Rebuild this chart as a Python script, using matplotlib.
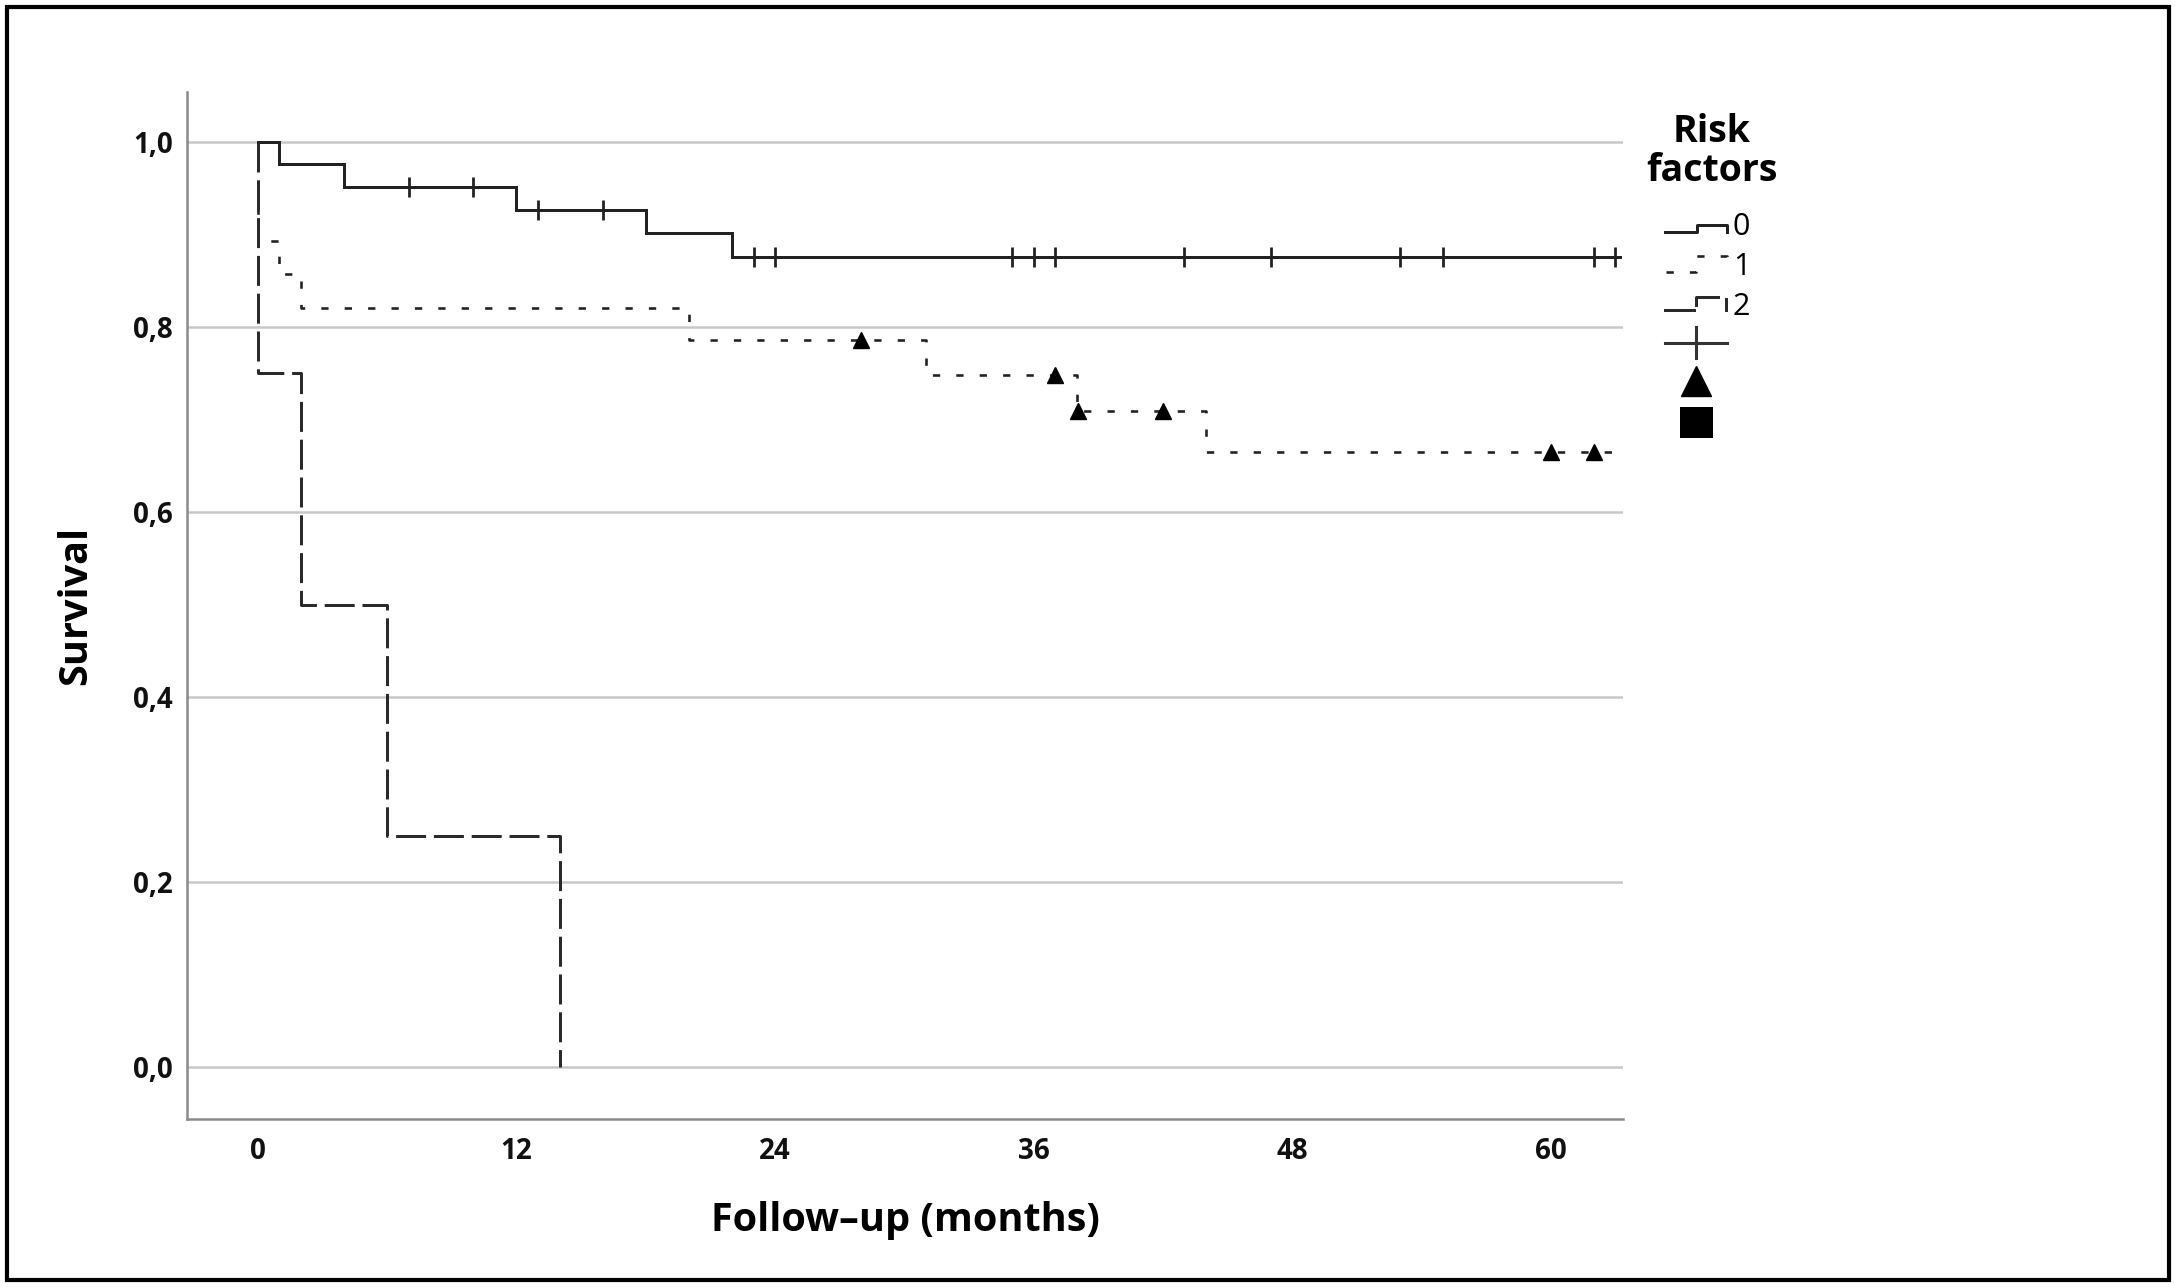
import numpy as np
import matplotlib
matplotlib.use("Agg")
import matplotlib.pyplot as plt
from matplotlib.lines import Line2D
from matplotlib.patches import Rectangle

# ---------------- data ----------------
# group 0 (solid)
t0 = [0, 1, 4, 12, 18, 22, 63.2]
s0 = [1.0, 0.976, 0.951, 0.927, 0.902, 0.876, 0.876]
c0 = [7, 10, 13, 16, 23, 24, 35, 36, 37, 43, 47, 53, 55, 62, 63]
# group 1 (dotted)
t1 = [0, 0, 1, 2, 20, 31, 38, 44, 63.2]
s1 = [1.0, 0.893, 0.857, 0.821, 0.786, 0.748, 0.709, 0.665, 0.665]
c1 = [28, 37, 38.05, 42, 60, 62]
# group 2 (dashed)
t2 = [0, 0, 2, 6, 14]
s2 = [1.0, 0.75, 0.5, 0.25, 0.0]

xticks = [0, 12, 24, 36, 48, 60]
yticks = [0.0, 0.2, 0.4, 0.6, 0.8, 1.0]
ytick_labels = ["0,0", "0,2", "0,4", "0,6", "0,8", "1,0"]
legend_title = ["Risk", "factors"]
legend_labels = ["0", "1", "2"]

FONT = "Open Sans"
W, H = 2175, 1287

def step_value(t, s, x):
    idx = np.searchsorted(np.asarray(t), x, side="right") - 1
    return np.asarray(s)[idx]

fig = plt.figure(figsize=(W / 100, H / 100), dpi=100)
ax = fig.add_axes([187 / W, 1 - 1119 / H, (1623 - 187) / W, (1119 - 91.5) / H])

lw_px = 0.72
ax.step(t0, s0, where="post", color="#222222", lw=3 * lw_px, solid_joinstyle="miter", zorder=4)
ax.step(t1, s1, where="post", color="#222222", lw=2.6 * lw_px,
        linestyle=(2, (2.8, 6.2)), zorder=3)
ax.step(t2, s2, where="post", color="#2a2a2a", lw=3 * lw_px,
        linestyle=(0, (10, 2.6)), zorder=3)

ax.plot(c0, step_value(t0, s0, c0), linestyle="none", marker="|", markersize=14,
        markeredgewidth=2.0, color="#222222", zorder=5)
ax.plot(c1, step_value(t1, s1, c1), linestyle="none", marker="^", markersize=12,
        color="black", zorder=5)

ax.set_xlim(-3.29, 63.35)
ax.set_ylim(-0.0562, 1.0546)
ax.set_xticks(xticks)
ax.set_xticklabels([str(v) for v in xticks])
ax.set_yticks(yticks)
ax.set_yticklabels(ytick_labels)
ax.yaxis.grid(True, color="#c8c8c8", lw=1.8, zorder=0)
ax.set_axisbelow(True)
ax.tick_params(axis="both", length=0, labelsize=20)
ax.tick_params(axis="x", pad=13)
ax.tick_params(axis="y", pad=10)
for lab in ax.get_xticklabels() + ax.get_yticklabels():
    lab.set_family(FONT)
    lab.set_fontweight("bold")
    lab.set_color("#111111")
for side in ("top", "right"):
    ax.spines[side].set_visible(False)
for side in ("left", "bottom"):
    ax.spines[side].set_color("#8a8a8a")
    ax.spines[side].set_linewidth(1.8)

ax.set_xlabel("Follow\u2013up (months)", family=FONT, fontweight="bold", fontsize=28.5)
ax.set_ylabel("Survival", family=FONT, fontweight="bold", fontsize=28.5)
ax.xaxis.set_label_coords(0.5, -(1221 - 1119) / 1027.5)
ax.xaxis.label.set_va("center")
ax.yaxis.set_label_coords((76 - 187) / 1436, 0.5)
ax.yaxis.label.set_va("center")

# ---------------- overlay for legend and frame (pixel coordinates) ----------------
ov = fig.add_axes([0, 0, 1, 1], facecolor="none")
ov.set_xlim(0, W)
ov.set_ylim(H, 0)
ov.axis("off")

ov.text(1712, 142, legend_title[0], family=FONT, fontweight="bold", fontsize=27,
        ha="center", va="baseline")
ov.text(1712, 181, legend_title[1], family=FONT, fontweight="bold", fontsize=27,
        ha="center", va="baseline")

# icon 0 (solid step)
ov.add_line(Line2D([1665, 1697, 1697, 1727, 1727], [232, 232, 225, 225, 232],
                   color="#222222", lw=3 * lw_px))
# icon 1 (dotted step)
ov.add_line(Line2D([1666, 1696, 1696, 1727, 1727], [272, 272, 256, 256, 262],
                   color="#222222", lw=2.6 * lw_px, linestyle=(0, (2.8, 6.2))))
# icon 2 (dashed step)
ov.add_line(Line2D([1665, 1694], [310, 310], color="#2a2a2a", lw=3 * lw_px))
ov.add_line(Line2D([1696, 1696, 1718], [305, 297, 297], color="#2a2a2a", lw=3 * lw_px))
ov.add_line(Line2D([1726, 1726], [299, 310], color="#2a2a2a", lw=3 * lw_px))
for lab, y in zip(legend_labels, [227, 267, 307]):
    ov.text(1733, y, lab, family=FONT, fontsize=22, ha="left", va="center")
# censor symbols
ov.add_line(Line2D([1665, 1727], [343, 343], color="#333333", lw=2.2))
ov.add_line(Line2D([1696, 1696], [327, 358], color="#333333", lw=2.2))
ov.plot([1696], [381], marker="^", markersize=21, color="black", linestyle="none")
ov.add_patch(Rectangle((1680, 407), 33, 31, facecolor="black", edgecolor="none"))

# frame
ov.add_patch(Rectangle((7, 7), 2162, 1273, facecolor="none", edgecolor="black", lw=3.0))

fig.savefig("out.png", dpi=100)
